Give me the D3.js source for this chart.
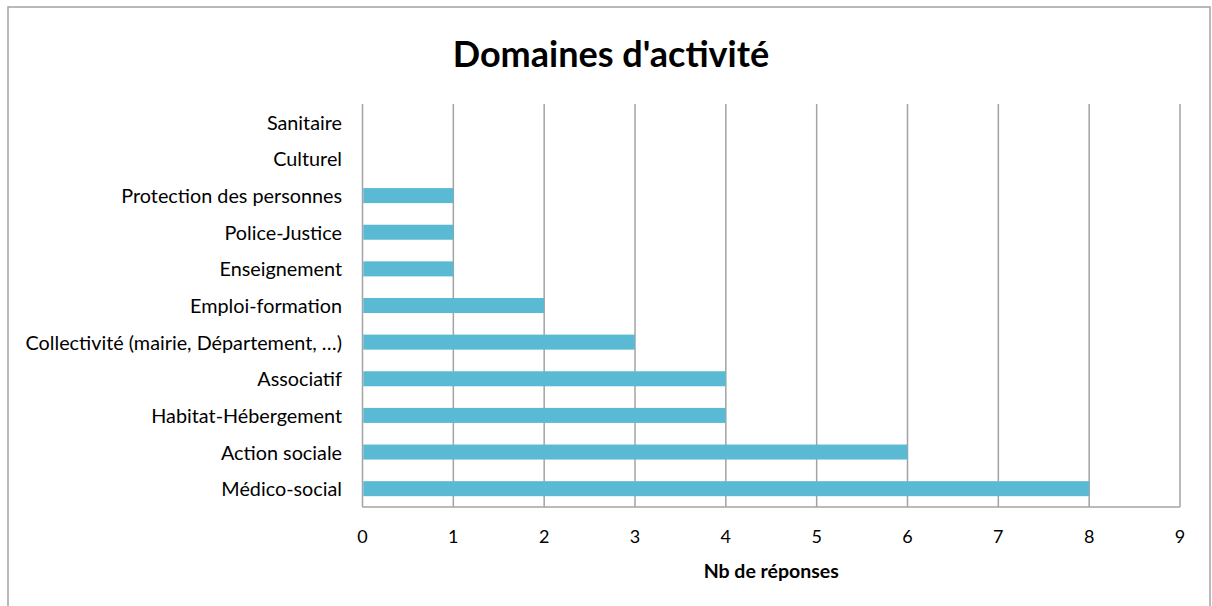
<!DOCTYPE html>
<html>
<head>
<meta charset="utf-8">
<script src="https://cdn.jsdelivr.net/npm/d3@7"></script>
<style>
  body { margin: 0; background: #fff; }
  svg { display: block; font-family: Lato, "Open Sans", sans-serif; }
</style>
</head>
<body>
<svg id="chart" width="1212" height="606"></svg>
<script>
// categories top to bottom
var categories = ['Sanitaire', 'Culturel', 'Protection des personnes', 'Police-Justice',
    'Enseignement', 'Emploi-formation', 'Collectivité (mairie, Département, …)',
    'Associatif', 'Habitat-Hébergement', 'Action sociale', 'Médico-social'];
var values = [0, 0, 1, 1, 1, 2, 3, 4, 4, 6, 8];
var xTicks = [0, 1, 2, 3, 4, 5, 6, 7, 8, 9];

var chart = d3.select('#chart');
var plotLeft = 362.5, plotRight = 1180, plotTop = 104, plotBottom = 507;

// outer frame
chart.append('rect')
    .attr('x', 8).attr('y', 7).attr('width', 1202).attr('height', 620)
    .attr('fill', 'none').attr('stroke', '#a3a3a3').attr('stroke-width', 1.5);

chart.append('text')
    .attr('x', 611).attr('y', 67)
    .attr('text-anchor', 'middle')
    .attr('font-size', 36).attr('font-weight', 'bold')
    .attr('fill', '#000')
    .text("Domaines d'activité");

var xs = d3.scaleLinear().domain([0, 9]).range([plotLeft, plotRight]);
var ys = d3.scaleBand().domain(categories).range([plotTop, plotBottom]).paddingInner(0.59).paddingOuter(0.295);

// vertical gridlines
chart.append('g').selectAll('line').data(xTicks).enter().append('line')
    .attr('x1', function (d) {return xs(d)})
    .attr('x2', function (d) {return xs(d)})
    .attr('y1', plotTop).attr('y2', plotBottom)
    .attr('stroke', '#a3a3a3').attr('stroke-width', 1.5);

// bottom axis line
chart.append('line')
    .attr('x1', plotLeft).attr('x2', plotRight).attr('y1', plotBottom).attr('y2', plotBottom)
    .attr('stroke', '#a3a3a3').attr('stroke-width', 1.5);

chart.append('g').selectAll('rect').data(values).enter().append('rect')
    .attr('x', xs(0) + 0.75)
    .attr('y', function (d, i) {return ys(categories[i])})
    .attr('width', function (d) {return Math.max(0, xs(d) - xs(0) - 0.75)})
    .attr('height', ys.bandwidth())
    .attr('fill', '#5bbad3');

// category labels
chart.append('g').selectAll('text').data(categories).enter().append('text')
    .attr('x', 342)
    .attr('y', function (d) {return ys(d) + ys.bandwidth() / 2})
    .attr('dy', '0.38em')
    .attr('text-anchor', 'end')
    .attr('font-size', 19.8)
    .attr('fill', '#000')
    .text(function (d) {return d});

// tick labels
chart.append('g').selectAll('text').data(xTicks).enter().append('text')
    .attr('x', function (d) {return xs(d)})
    .attr('y', 537)
    .attr('dy', '0.35em')
    .attr('text-anchor', 'middle')
    .attr('font-size', 18)
    .attr('fill', '#000')
    .text(function (d) {return d});

chart.append('text')
    .attr('x', (plotLeft + plotRight) / 2).attr('y', 571)
    .attr('dy', '0.35em')
    .attr('text-anchor', 'middle')
    .attr('font-size', 19.5).attr('font-weight', 'bold')
    .attr('fill', '#000')
    .text('Nb de réponses');
</script>
</body>
</html>
